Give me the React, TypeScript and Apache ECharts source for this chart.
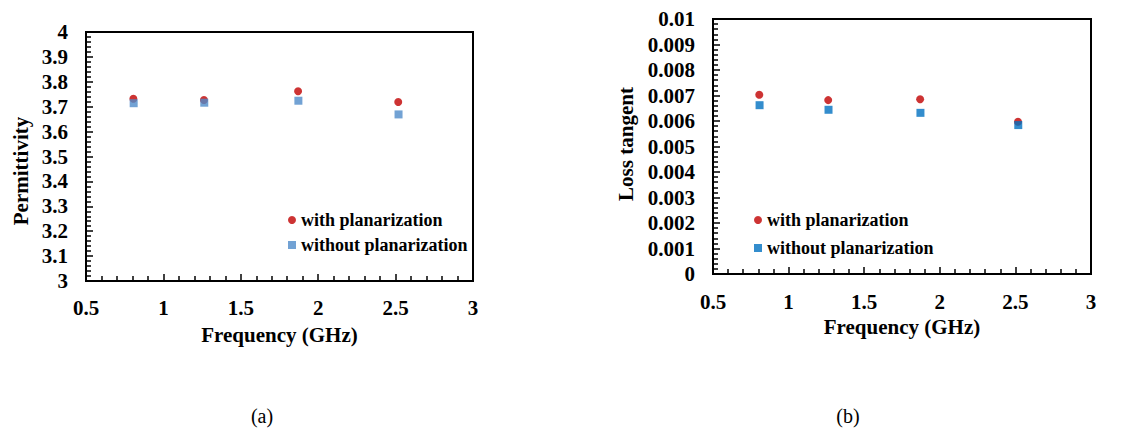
import React, { useEffect, useRef } from "react";
import * as echarts from "echarts";

// ---- data ----
const freqWith = [0.806, 1.262, 1.87, 2.517];
const freqWithout = [0.808, 1.264, 1.872, 2.519];
const permWith = [3.732, 3.727, 3.762, 3.719];
const permWithout = [3.714, 3.716, 3.724, 3.669];
const lossWith = [0.00703, 0.00682, 0.00685, 0.00597];
const lossWithout = [0.00662, 0.00644, 0.00632, 0.00584];
const seriesNames = ["with planarization", "without planarization"];
const xTitle = "Frequency (GHz)";
const yTitles = ["Permittivity", "Loss tangent"];
const captions = ["(a)", "(b)"];

const RED = "#C00000";
const BLUE_A = "#4F8BC9";
const BLUE_B = "#0070C0";
const FONT = "Liberation Serif";

const zip = (xs: number[], ys: number[]) => xs.map((x, i) => [x, ys[i]]);

export default function App() {
  const ref = useRef<HTMLDivElement>(null);
  useEffect(() => {
    document.body.style.margin = "0";
    if (!ref.current) return;
    const chart = echarts.init(ref.current, undefined, { renderer: "svg" });
    const mkX = (gridIndex: number, margin: number, nameGap: number) => ({
      type: "value",
      gridIndex,
      min: 0.5,
      max: 3,
      interval: 0.5,
      name: xTitle,
      nameLocation: "middle",
      nameGap,
      nameTextStyle: { color: "#000", fontFamily: FONT, fontWeight: "bold", fontSize: 21 },
      axisLine: { show: true, lineStyle: { color: "#000", width: 2 } },
      axisTick: { show: true, inside: true, length: 7, lineStyle: { color: "#000", width: 1.5 } },
      minorTick: { show: true, splitNumber: 5, length: 5, lineStyle: { color: "#000", width: 1.5 } },
      splitLine: { show: false },
      axisLabel: {
        color: "#000", fontFamily: FONT, fontWeight: "bold", fontSize: 21, margin,
        formatter: (v: number) => String(+v.toFixed(1)),
      },
    });
    const mkY = (gridIndex: number, min: number, max: number, interval: number, digits: number) => ({
      type: "value",
      gridIndex,
      min,
      max,
      interval,
      axisLine: { show: true, lineStyle: { color: "#000", width: 2 } },
      axisTick: { show: true, inside: true, length: 7, lineStyle: { color: "#000", width: 1.5 } },
      minorTick: { show: true, splitNumber: 5, length: 5, lineStyle: { color: "#000", width: 1.5 } },
      splitLine: { show: false },
      axisLabel: {
        color: "#000", fontFamily: FONT, fontWeight: "bold", fontSize: 21, margin: 18,
        formatter: (v: number) => String(+v.toFixed(digits)),
      },
    });
    const legendText = { color: "#000", fontFamily: FONT, fontWeight: "bold", fontSize: 18 };
    chart.setOption({
      animation: false,
      backgroundColor: "#fff",
      textStyle: { fontFamily: FONT },
      grid: [
        { left: 86, top: 32, width: 387, height: 249, show: true, borderColor: "#000", borderWidth: 2 },
        { left: 713, top: 19, width: 378, height: 255, show: true, borderColor: "#000", borderWidth: 2 },
      ],
      xAxis: [mkX(0, 16, 43), mkX(1, 17, 41)],
      yAxis: [mkY(0, 3, 4, 0.1, 1), mkY(1, 0, 0.01, 0.001, 3)],
      legend: [
        {
          orient: "vertical",
          left: 283,
          top: 206,
          itemWidth: 8,
          itemHeight: 8,
          itemGap: 7,
          textStyle: legendText,
          data: [
            { name: seriesNames[0], icon: "circle", itemStyle: { color: RED } },
            { name: seriesNames[1], icon: "rect", itemStyle: { color: BLUE_A } },
          ],
        },
        {
          orient: "vertical",
          left: 749,
          top: 206,
          itemWidth: 8,
          itemHeight: 8,
          itemGap: 10,
          textStyle: legendText,
          data: [
            { name: seriesNames[0], icon: "circle", itemStyle: { color: RED } },
            { name: seriesNames[1], icon: "rect", itemStyle: { color: BLUE_B } },
          ],
        },
      ],
      series: [
        { type: "scatter", name: seriesNames[0], xAxisIndex: 0, yAxisIndex: 0, symbol: "circle", symbolSize: 8, itemStyle: { color: RED }, data: zip(freqWith, permWith), z: 3 },
        { type: "scatter", name: seriesNames[1], xAxisIndex: 0, yAxisIndex: 0, symbol: "rect", symbolSize: 8, itemStyle: { color: BLUE_A }, data: zip(freqWithout, permWithout), z: 4 },
        { type: "scatter", name: seriesNames[0], xAxisIndex: 1, yAxisIndex: 1, symbol: "circle", symbolSize: 8, itemStyle: { color: RED }, data: zip(freqWith, lossWith), z: 3 },
        { type: "scatter", name: seriesNames[1], xAxisIndex: 1, yAxisIndex: 1, symbol: "rect", symbolSize: 8, itemStyle: { color: BLUE_B }, data: zip(freqWithout, lossWithout), z: 4 },
      ],
      graphic: [
        { type: "text", x: 21, y: 171, rotation: Math.PI / 2, style: { text: yTitles[0], align: "center", verticalAlign: "middle", fill: "#000", font: `bold 21px "${FONT}"` } },
        { type: "text", x: 626, y: 144, rotation: Math.PI / 2, style: { text: yTitles[1], align: "center", verticalAlign: "middle", fill: "#000", font: `bold 21px "${FONT}"` } },
        { type: "text", x: 262, y: 416, style: { text: captions[0], align: "center", verticalAlign: "middle", fill: "#000", font: `20px "${FONT}"` } },
        { type: "text", x: 848, y: 416, style: { text: captions[1], align: "center", verticalAlign: "middle", fill: "#000", font: `20px "${FONT}"` } },
      ],
    });
    return () => chart.dispose();
  }, []);
  return <div ref={ref} style={{ width: 1124, height: 428 }} />;
}
